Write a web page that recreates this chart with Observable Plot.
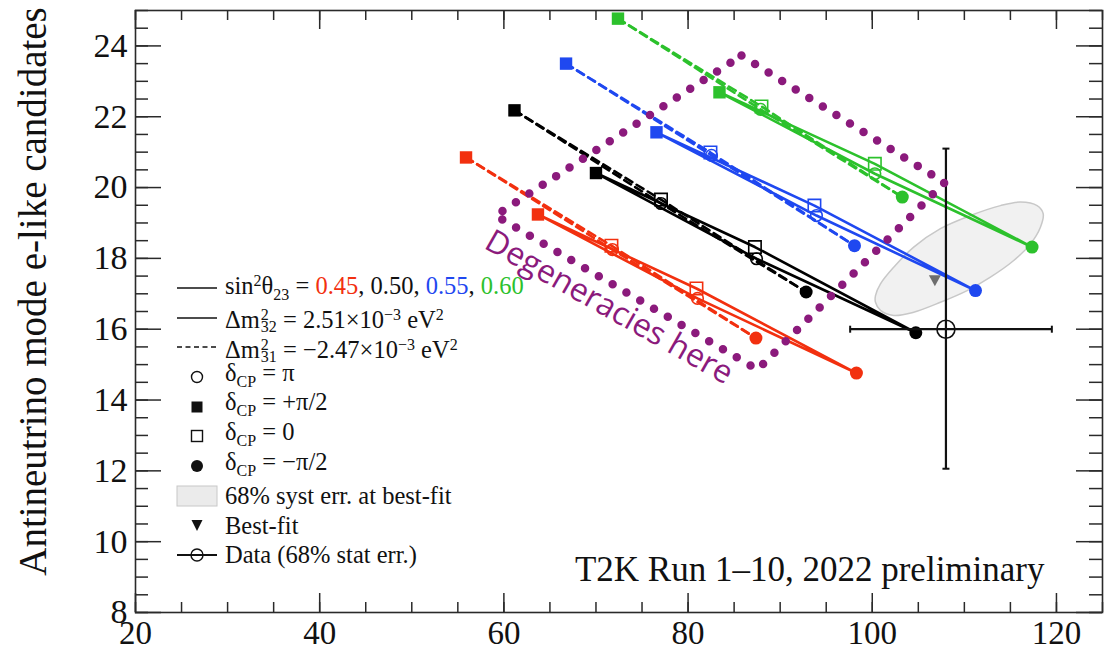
<!DOCTYPE html>
<html>
<head>
<meta charset="utf-8">
<script src="https://cdn.jsdelivr.net/npm/d3@7"></script>
<script src="https://cdn.jsdelivr.net/npm/@observablehq/plot@0.6"></script>
<style>
  body { margin: 0; background: #fff; }
  #wrap { position: relative; width: 1113px; height: 650px; overflow: hidden; background: #fff; }
  #legend { position: absolute; left: 175px; top: 273px; font-family: "Liberation Serif", "Times New Roman", serif; font-size: 24.5px; color: #111; }
  .row { display: flex; align-items: center; height: 29.7px; line-height: 29.7px; white-space: nowrap; }
  .sym { width: 44px; height: 30px; margin-right: 6px; flex: none; }
  .sup { font-size: 16px; vertical-align: 8px; }
  .sub { font-size: 16px; vertical-align: -6px; }
  .stk { position: relative; display: inline-block; width: 17px; height: 1px; }
  .stk .u { position: absolute; left: 1px; bottom: 5px; font-size: 16px; line-height: 1; }
  .stk .d { position: absolute; left: 1px; bottom: -7px; font-size: 16px; line-height: 1; }
</style>
</head>
<body>
<div id="wrap"></div>
<script>
// ---------------- data ----------------
const sin2Values = ["0.45", "0.50", "0.55", "0.60"];
const deltaCP = ["+π/2", "0", "−π/2", "π"];           // order around each loop
// Normal ordering (Δm²32 > 0) : neutrino-mode (x) and antineutrino-mode (y) e-like candidates
const nuNO    = [[63.70, 80.91, 98.28, 81.02], [70.00, 87.26, 104.73, 87.43], [76.57, 93.72, 111.21, 93.94], [83.41, 100.28, 117.35, 100.28]];
const nubarNO = [[19.24, 17.15, 14.76, 16.87], [20.41, 18.32, 15.90, 17.99], [21.56, 19.49, 17.09, 19.21], [22.69, 20.67, 18.32, 20.39]];
// Inverted ordering (Δm²31 < 0)
const nuIO    = [[55.89, 71.68, 87.37, 71.79], [61.15, 77.06, 92.82, 77.06], [66.75, 82.43, 98.07, 82.54], [72.39, 87.97, 103.26, 87.86]];
const nubarIO = [[20.85, 18.36, 15.75, 18.25], [22.18, 19.66, 17.05, 19.55], [23.50, 20.99, 18.36, 20.91], [24.77, 22.29, 19.73, 22.21]];
// 68% systematic error contour at best fit
const systNu    = [100.35, 100.89, 102.33, 104.50, 107.40, 110.66, 113.92, 116.09, 117.90, 118.56, 118.26, 117.18, 115.36, 112.83, 110.30, 107.40, 104.50, 102.33, 100.89, 100.35];
const systNubar = [16.95, 17.28, 17.75, 18.32, 18.84, 19.21, 19.49, 19.59, 19.49, 19.26, 18.88, 18.41, 17.94, 17.47, 17.09, 16.76, 16.48, 16.39, 16.53, 16.76];
// best fit and data
const bestFitNu = [106.8], bestFitNubar = [17.4];
const dataNu = [108.0], dataNubar = [16.0];
const dataNuLo = [97.6], dataNuHi = [119.5];
const dataNubarLo = [12.06], dataNubarHi = [21.1];
// annotation
const degenNu = [85.8, 107.84, 87.54, 59.1];
const degenNubar = [23.73, 20.14, 14.86, 19.21];
const degenLabel = ["Degeneracies here"];
const degenLabelNu = [71.43], degenLabelNubar = [16.62];
const runLabel = ["T2K Run 1–10, 2022 preliminary"];
const yLabel = ["Antineutrino mode e-like candidates"];
// axes
const xMajorTicks = [20, 40, 60, 80, 100, 120];
const yMajorTicks = [8, 10, 12, 14, 16, 18, 20, 22, 24];

// ---------------- style ----------------
const W = 1113, H = 650, mL = 135, mR = 11, mT = 10, mB = 38;
const innerW = W - mL - mR, innerH = H - mT - mB;
const seriesColors = ["#f2300f", "#000000", "#1f48f0", "#2cc12c"];
const purple = "#8b1a7c";
const serif = "'Liberation Serif', 'Times New Roman', serif";
const axisColor = "#2a2a2a";

// ---------------- build tables ----------------
const points = [];
for (const [ord, NU, NB] of [["NO", nuNO, nubarNO], ["IO", nuIO, nubarIO]]) {
  sin2Values.forEach((s, i) => deltaCP.forEach((d, j) => points.push({ord, s, d, x: NU[i][j], y: NB[i][j]})));
}
const NO = points.filter(p => p.ord === "NO");
// for the dashed (IO) loops, draw each half from δ=+π/2 so that dash phases line up
const IOhalves = [];
sin2Values.forEach((s, i) => {
  for (const [side, js] of [["a", [0, 1, 2]], ["b", [0, 3, 2]]]) {
    js.forEach(j => IOhalves.push({s, key: s + side, x: nuIO[i][j], y: nubarIO[i][j]}));
  }
});
const systTable = systNu.map((x, i) => ({x, y: systNubar[i]}));
const degenTable = degenNu.map((x, i) => ({x, y: degenNubar[i]}));
const xMinorTicks = d3.range(20, 125.01, 5);
const yMinorTicks = d3.range(8, 25.01, 0.5);

const capH = {draw(ctx) { const r = 3.5; ctx.moveTo(-r, 0); ctx.lineTo(r, 0); }};
const capV = {draw(ctx) { const r = 3.5; ctx.moveTo(0, -r); ctx.lineTo(0, r); }};
const triDown = {draw(ctx, size) { const r = Math.sqrt(size / Math.PI); ctx.moveTo(-r, -r * 0.75); ctx.lineTo(r, -r * 0.75); ctx.lineTo(0, r * 1.1); ctx.closePath(); }};

const marks = [
  // systematic contour
  Plot.line(systTable, {x: "x", y: "y", curve: "catmull-rom-closed", fill: "#f1f1f1", stroke: "#c8c8c8", strokeWidth: 1.5}),
  // loops
  Plot.line(NO, {x: "x", y: "y", z: "s", stroke: "s", curve: "linear-closed", strokeWidth: 2.6}),
  Plot.line(IOhalves, {x: "x", y: "y", z: "key", stroke: "s", strokeWidth: 2.6, strokeDasharray: "8,5"}),
  // markers
  Plot.dot(points.filter(p => p.d === "+π/2"), {x: "x", y: "y", symbol: "square", fill: "s", r: 7}),
  Plot.dot(points.filter(p => p.d === "0"), {x: "x", y: "y", symbol: "square", stroke: "s", fill: "none", strokeWidth: 1.6, r: 7}),
  Plot.dot(points.filter(p => p.d === "π"), {x: "x", y: "y", symbol: "circle", stroke: "s", fill: "none", strokeWidth: 1.6, r: 5.8}),
  Plot.dot(points.filter(p => p.d === "−π/2"), {x: "x", y: "y", symbol: "circle", fill: "s", r: 6.5}),
  // best fit
  Plot.dot(bestFitNu, {x: bestFitNu, y: bestFitNubar, symbol: triDown, fill: "#6e6e6e", r: 6}),
  // data with error bars
  Plot.ruleY(dataNubar, {y: dataNubar, x1: dataNuLo, x2: dataNuHi, stroke: "#111", strokeWidth: 2.2}),
  Plot.ruleX(dataNu, {x: dataNu, y1: dataNubarLo, y2: dataNubarHi, stroke: "#111", strokeWidth: 2.2}),
  Plot.dot(dataNuLo, {x: dataNuLo, y: dataNubar, symbol: capV, stroke: "#111", strokeWidth: 2}),
  Plot.dot(dataNuHi, {x: dataNuHi, y: dataNubar, symbol: capV, stroke: "#111", strokeWidth: 2}),
  Plot.dot(dataNubarLo, {x: dataNu, y: dataNubarLo, symbol: capH, stroke: "#111", strokeWidth: 2}),
  Plot.dot(dataNubarHi, {x: dataNu, y: dataNubarHi, symbol: capH, stroke: "#111", strokeWidth: 2}),
  Plot.dot(dataNu, {x: dataNu, y: dataNubar, symbol: "circle", stroke: "#111", fill: "none", strokeWidth: 1.6, r: 9}),
  // annotation
  Plot.line(degenTable, {x: "x", y: "y", curve: "linear-closed", stroke: purple, strokeWidth: 8.5, strokeDasharray: "0 16", strokeLinecap: "round"}),
  Plot.text(degenLabel, {x: degenLabelNu, y: degenLabelNubar, text: d => d, rotate: 29.5, fontSize: 32, fontFamily: "'Open Sans', sans-serif", fill: purple}),
  // frame ticks (inward)
  Plot.tickX(xMinorTicks, {x: d => d, insetTop: innerH - 10, stroke: axisColor, strokeWidth: 1.5}),
  Plot.tickX(xMajorTicks, {x: d => d, insetTop: innerH - 19, stroke: axisColor, strokeWidth: 1.5}),
  Plot.tickX(xMinorTicks, {x: d => d, insetBottom: innerH - 10, stroke: axisColor, strokeWidth: 1.5}),
  Plot.tickX(xMajorTicks, {x: d => d, insetBottom: innerH - 19, stroke: axisColor, strokeWidth: 1.5}),
  Plot.tickY(yMinorTicks, {y: d => d, insetRight: innerW - 13, stroke: axisColor, strokeWidth: 1.5}),
  Plot.tickY(yMajorTicks, {y: d => d, insetRight: innerW - 26, stroke: axisColor, strokeWidth: 1.5}),
  Plot.tickY(yMinorTicks, {y: d => d, insetLeft: innerW - 13, stroke: axisColor, strokeWidth: 1.5}),
  Plot.tickY(yMajorTicks, {y: d => d, insetLeft: innerW - 26, stroke: axisColor, strokeWidth: 1.5}),
  Plot.frame({stroke: axisColor, strokeWidth: 1.6}),
  // axes labels
  Plot.axisX({ticks: xMajorTicks, tickSize: 0, tickPadding: 8, fontSize: 33, label: null, tickFormat: d => String(d)}),
  Plot.axisY({ticks: yMajorTicks, tickSize: 0, tickPadding: 8, fontSize: 34, label: null, tickFormat: d => String(d)}),
  Plot.text(yLabel, {frameAnchor: "left", textAnchor: "middle", lineAnchor: "middle", dx: -102, dy: -20, rotate: -90, fontSize: 39, fontFamily: serif, fill: "#111"}),
  Plot.text(runLabel, {frameAnchor: "bottom-right", textAnchor: "end", lineAnchor: "bottom", dx: -58, dy: -32, fontSize: 35, fontFamily: serif, fill: "#111"})
];

const chart = Plot.plot({
  width: W, height: H,
  marginLeft: mL, marginRight: mR, marginTop: mT, marginBottom: mB,
  x: {domain: [20, 125], label: null},
  y: {domain: [8, 25], label: null},
  color: {domain: sin2Values, range: seriesColors},
  style: {fontFamily: serif, background: "#fff", color: "#111", overflow: "visible"},
  marks
});
const wrap = document.getElementById("wrap");
wrap.appendChild(chart);

// ---------------- legend (inside plot area) ----------------
const sym = inner => `<svg class="sym" viewBox="0 0 44 30" width="44" height="30">${inner}</svg>`;
const legendRows = [
  [sym('<line x1="2" x2="42" y1="15" y2="15" stroke="#111" stroke-width="1.5"/>'),
   `sin<span class="sup">2</span>θ<span class="sub">23</span> = <span style="color:${seriesColors[0]}">${sin2Values[0]}</span>, ${sin2Values[1]}, <span style="color:${seriesColors[2]}">${sin2Values[2]}</span>, <span style="color:${seriesColors[3]}">${sin2Values[3]}</span>`],
  [sym('<line x1="2" x2="42" y1="15" y2="15" stroke="#111" stroke-width="1.5"/>'),
   'Δm<span class="stk"><span class="u">2</span><span class="d">32</span></span> = 2.51×10<span class="sup">−3</span> eV<span class="sup">2</span>'],
  [sym('<line x1="2" x2="42" y1="15" y2="15" stroke="#111" stroke-width="1.5" stroke-dasharray="5,3.5"/>'),
   'Δm<span class="stk"><span class="u">2</span><span class="d">31</span></span> = −2.47×10<span class="sup">−3</span> eV<span class="sup">2</span>'],
  [sym('<circle cx="22" cy="15" r="5.5" fill="none" stroke="#111" stroke-width="1.4"/>'), 'δ<span class="sub">CP</span> = π'],
  [sym('<rect x="16.5" y="9.5" width="11" height="11" fill="#111"/>'), 'δ<span class="sub">CP</span> = +π/2'],
  [sym('<rect x="16.5" y="9.5" width="11" height="11" fill="none" stroke="#111" stroke-width="1.4"/>'), 'δ<span class="sub">CP</span> = 0'],
  [sym('<circle cx="22" cy="15" r="6" fill="#111"/>'), 'δ<span class="sub">CP</span> = −π/2'],
  [sym('<rect x="2" y="5" width="40" height="20" fill="#ebebeb" stroke="#c8c8c8" stroke-width="1"/>'), '68% syst err. at best-fit'],
  [sym('<path d="M16.5,10 L27.5,10 L22,21 Z" fill="#111"/>'), 'Best-fit'],
  [sym('<line x1="2" x2="42" y1="15" y2="15" stroke="#111" stroke-width="1.8"/><circle cx="22" cy="15" r="6" fill="none" stroke="#111" stroke-width="1.4"/>'), 'Data (68% stat err.)']
];
const legend = document.createElement("div");
legend.id = "legend";
legend.innerHTML = legendRows.map(([s, t]) => `<div class="row">${s}<span>${t}</span></div>`).join("");
wrap.appendChild(legend);
</script>
</body>
</html>
